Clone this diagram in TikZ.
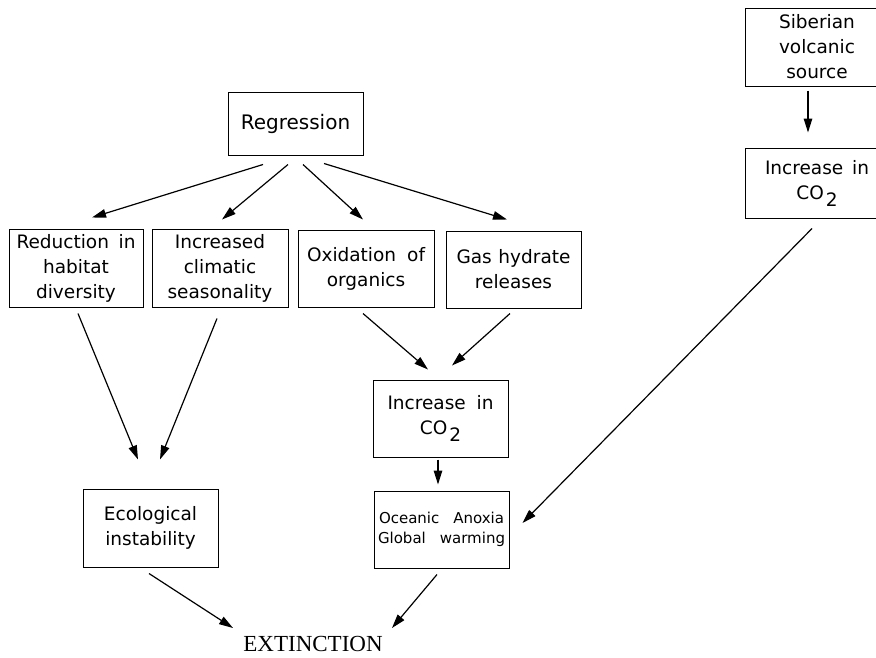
\documentclass[tikz,border=0pt]{standalone}
\usepackage{fontspec}
\setmainfont{DejaVu Sans}
\newfontfamily\titleserif{Liberation Serif}
\usetikzlibrary{arrows.meta,calc}

% a line whose word gaps are stretched to a fixed width
\newcommand{\spreadline}[2]{\makebox[#1pt][s]{#2}}
% carbon dioxide with the lowered 2
\newcommand{\cotwo}{CO\kern2pt\raisebox{-7pt}{2}}

\begin{document}
\begin{tikzpicture}[x=1pt,y=-1pt,
  box/.style={draw, line width=1pt, align=center, inner sep=0pt,
              font=\fontsize{18.5}{25}\selectfont},
  link/.style={line width=1.2pt, -{Triangle[length=14pt,width=8.5pt]}}]

\clip (0,0) rectangle (876,657);
\fill[white] (0,0) rectangle (876,657);

% boxes
\node[box, minimum width=135pt, minimum height=63pt,
      font=\fontsize{20}{25}\selectfont] (reg) at (295.5,123.5) {Regression};

\node[box, minimum width=134pt, minimum height=78pt] (red) at (76,268)
  {\spreadline{119}{Reduction in}\\habitat\\diversity};
\node[box, minimum width=136pt, minimum height=78pt] (sea) at (220,268)
  {Increased\\climatic\\seasonality};
\node[box, minimum width=136pt, minimum height=77pt] (oxi) at (366,268.5)
  {\spreadline{118}{Oxidation of}\\organics};
\node[box, minimum width=135pt, minimum height=77pt] (gas) at (513.5,269.5)
  {\spreadline{114}{Gas hydrate}\\releases};

\node[box, minimum width=144pt, minimum height=78pt] (sib) at (817,47)
  {Siberian\\volcanic\\source};
\node[box, minimum width=144pt, minimum height=70pt] (co2r) at (817,183)
  {\spreadline{104}{Increase in}\\\cotwo};

\node[box, minimum width=135pt, minimum height=77pt] (co2m) at (440.5,418.5)
  {\spreadline{106}{Increase in}\\\cotwo};
\node[box, minimum width=135pt, minimum height=77pt,
      font=\fontsize{15}{20}\selectfont] (oce) at (441.5,529.5)
  {\spreadline{125}{Oceanic Anoxia}\\\spreadline{127}{Global warming}};
\node[box, minimum width=135pt, minimum height=78pt] (eco) at (150.5,528)
  {Ecological\\instability};

\node[inner sep=0pt, font=\titleserif\fontsize{23}{23}\selectfont] (ext) at (313,644)
  {EXTINCTION};

% connectors
\draw[link] ($(reg.south)+(-32.5,9)$) -- ($(red.north)+(16,-11)$);
\draw[link] ($(reg.south)+(-7.5,9)$)  -- ($(sea.north)+(2,-9)$);
\draw[link] ($(reg.south)+(7.5,9)$)   -- ($(oxi.north)+(-3,-10)$);
\draw[link] ($(reg.south)+(28.5,8)$)  -- ($(gas.north)+(-6.5,-11)$);

\draw[link] ($(red.south)+(2,6)$)  -- ($(eco.north)+(-12.5,-29)$);
\draw[link] ($(sea.south)+(-3,11)$) -- ($(eco.north)+(9.5,-29)$);

\draw[link] ($(oxi.south)+(-3,6)$)   -- ($(co2m.north)+(-12.5,-10)$);
\draw[link] ($(gas.south)+(-3.5,5)$) -- ($(co2m.north)+(11.5,-14)$);
\draw[link] ($(co2m.south)+(-2.5,2)$) -- ($(oce.north)+(-3.5,-6)$);

\draw[link] ($(sib.south)+(-9,4)$)   -- ($(co2r.north)+(-9,-15)$);
\draw[link] ($(co2r.south)+(-5,10)$) -- ($(oce.east)+(13,-6.5)$);

\draw[link] ($(eco.south)+(-1.5,6)$) -- ($(ext.center)+(-80,-16)$);
\draw[link] ($(oce.south)+(-4.5,6)$) -- ($(ext.center)+(79,-16)$);

\end{tikzpicture}
\end{document}
